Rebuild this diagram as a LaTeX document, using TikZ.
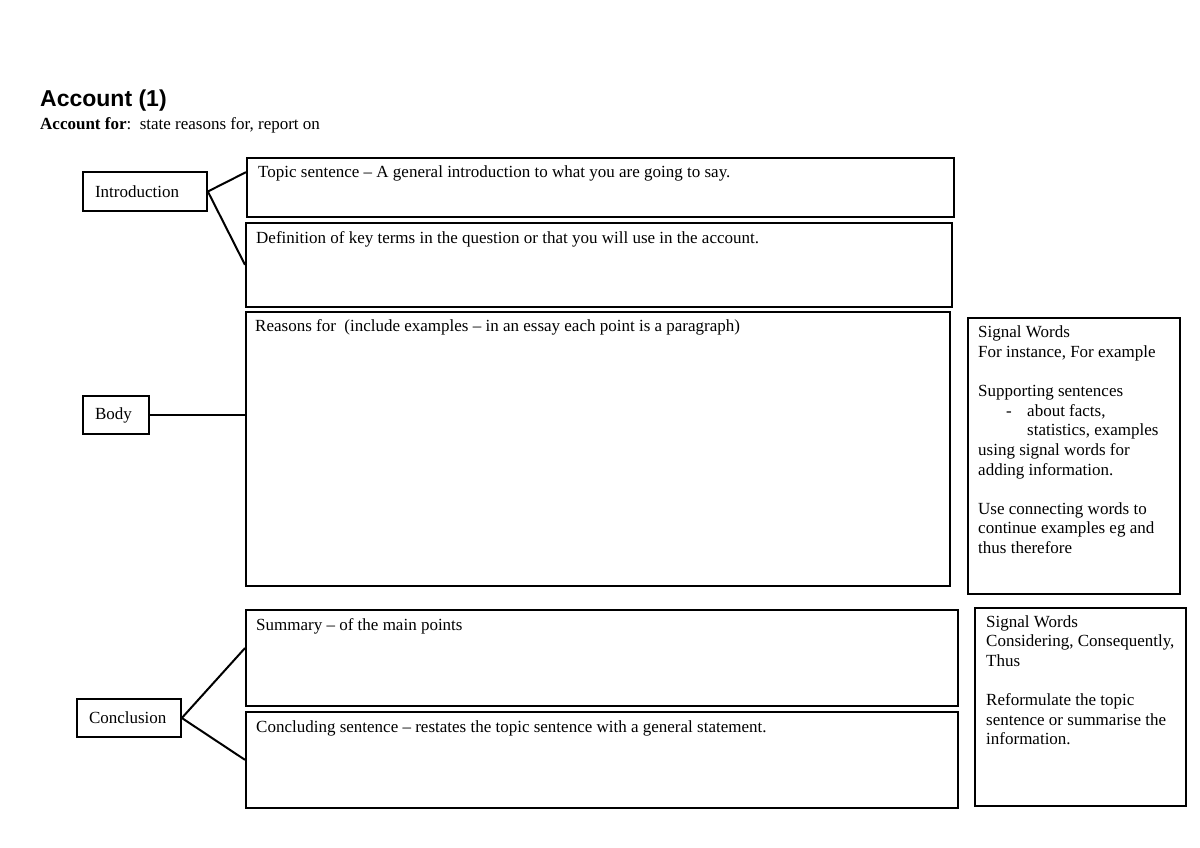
\documentclass[tikz,border=0pt]{standalone}
\usepackage{fontspec}
\setmainfont{Liberation Serif}
\newfontfamily\titlefont{Liberation Sans}
\usetikzlibrary{calc}
\begin{document}
\begin{tikzpicture}[x=1pt,y=-1pt,
  box/.style={draw, line width=1.7pt, inner sep=0pt, anchor=north west},
  lbl/.style={draw, line width=1.7pt, inner xsep=12pt, inner ysep=0pt, align=left, font=\fontsize{17}{19.6}\selectfont},
  conn/.style={line width=2pt},
  txt/.style={inner sep=0pt, anchor=base west, font=\fontsize{17}{19.6}\selectfont},
  mtxt/.style={inner sep=0pt, anchor=north west, align=left, font=\fontsize{17}{19.6}\selectfont}]
\useasboundingbox (0,0) rectangle (1200,848);
% title
\node[anchor=base west, inner sep=0pt, font=\titlefont\bfseries\fontsize{23}{27}\selectfont] (title) at (40,107) {Account (1)};
\node[txt] (subtitle) at (40,130) {\textbf{Account for}:\ \ state reasons for, report on};
% content boxes
\node[box, minimum width=707pt, minimum height=59pt] (topic) at (246,157) {};
\node[box, minimum width=706pt, minimum height=84pt] (def) at (245,222) {};
\node[box, minimum width=704pt, minimum height=274pt] (reasons) at (245,311) {};
\node[box, minimum width=712pt, minimum height=96pt] (summ) at (245,609) {};
\node[box, minimum width=712pt, minimum height=96pt] (concl) at (245,711) {};
\node[box, minimum width=212pt, minimum height=276pt] (sig1) at (967,317) {};
\node[box, minimum width=211pt, minimum height=198pt] (sig2) at (974,607) {};
% texts
\node[txt] (topict) at (258,178) {Topic sentence -- A general introduction to what you are going to say.};
\node[txt] (deft) at (256,243) {Definition of key terms in the question or that you will use in the account.};
\node[txt] (reasonst) at (255,331) {Reasons for\ \ (include examples -- in an essay each point is a paragraph)};
\node[txt] (summt) at (256,630) {Summary -- of the main points};
\node[txt] (conclt) at (256,732) {Concluding sentence -- restates the topic sentence with a general statement.};
\node[mtxt] (sig1t) at (978,326) {Signal Words\\
For instance, For example\\[19.6pt]
Supporting sentences\\
\makebox[49pt][l]{\hspace{28pt}-}about facts,\\
\hspace{49pt}statistics, examples\\
using signal words for\\
adding information.\\[19.6pt]
Use connecting words to\\
continue examples eg and\\
thus therefore};
\node[mtxt] (sig2t) at (986,615) {Signal Words\\
Considering, Consequently,\\
Thus\\[19.6pt]
Reformulate the topic\\
sentence or summarise the\\
information.};
% section labels
\node[lbl, text width=100pt, minimum height=39pt] (intro) at (145,191.5) {Introduction};
\node[lbl, text width=42pt, minimum height=38pt] (body) at (116,415) {Body};
\node[lbl, text width=80pt, minimum height=38pt] (conc) at (129,718) {Conclusion};
% connectors
\draw[conn] (intro.east) -- ($(topic.north west)!0.25!(topic.south west)$);
\draw[conn] (intro.east) -- (def.west);
\draw[conn] (body.east) -- (reasons.west |- body.east);
\draw[conn] (conc.east) -- ($(summ.north west)!0.4!(summ.south west)$);
\draw[conn] (conc.east) -- (concl.west);
\end{tikzpicture}
\end{document}
